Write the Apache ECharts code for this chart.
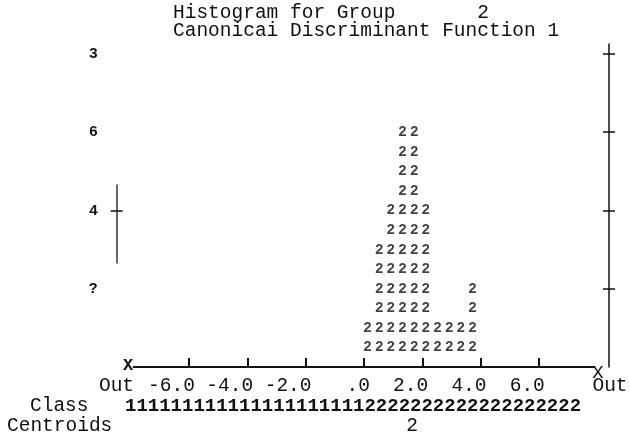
<!DOCTYPE html>
<html>
<head>
<meta charset="utf-8">
<script src="https://cdn.jsdelivr.net/npm/echarts@6/dist/echarts.min.js"></script>
<style>
  html, body { margin: 0; padding: 0; background: #fff; }
  #chart { width: 629px; height: 436px; }
</style>
</head>
<body>
<div id="chart"></div>
<script>
// histogram columns: centre of each text column on the function axis, and its case count
const colX = [0.12, 0.52, 0.92, 1.32, 1.72, 2.12, 2.52, 2.92, 3.32, 3.72];
const colCounts = [1, 3, 4, 6, 6, 4, 1, 1, 1, 2];
const rowStep = 0.5; // each printed "2" stands for half a case
const groupSymbol = '2';

const xTickValues = [-6, -4, -2, 0, 2, 4, 6];
const xTickLabels = ['-6.0', '-4.0', '-2.0', '.0', '2.0', '4.0', '6.0'];
const yTickValues = [2, 4, 6, 8];
const yTickLabels = ['?', '4', '6', '3'];

const titleLine1 = 'Histogram for Group       2';
const titleLine2 = 'Canonicai Discriminant Function 1';
const classRow = '111111111111111111111' + '2222222222222222222';
const centroidMark = '2';

const mono = '"Liberation Mono", "DejaVu Sans Mono", monospace';
const sans = '"Liberation Sans", Arial, sans-serif';
const ink = '#111';

const xMin = -7.9, xMax = 7.9;
const halfChar = 0.2; // half a printed column, in axis units

// stack of printed symbols, one point per row
const points = [];
colX.forEach((x, i) => {
  const rows = Math.round(colCounts[i] / rowStep);
  for (let k = 1; k <= rows; k++) points.push([x, k * rowStep]);
});

const chart = echarts.init(document.getElementById('chart'));

const txt = (text, x, y, opts) => ({
  type: 'text', x: x, y: y,
  style: Object.assign({ text: text, fill: ink, font: '19.5px ' + mono, textVerticalAlign: 'middle' }, opts || {})
});

const plainY = (extra) => Object.assign({
  type: 'value',
  splitLine: { show: false },
  axisLabel: { show: false }
}, extra);

chart.setOption({
  backgroundColor: '#fff',
  animation: false,
  grid: [
    { left: 133.6, right: 34.6, top: 44, bottom: 69 },
    { left: 116.7, width: 1, top: 185, height: 78 }
  ],
  xAxis: [
    {
      gridIndex: 0, type: 'value', min: xMin, max: xMax,
      splitLine: { show: false },
      axisLine: { onZero: false, lineStyle: { color: ink, width: 2 } },
      axisTick: { customValues: xTickValues, inside: true, length: 9, lineStyle: { color: ink, width: 2 } },
      axisLabel: { show: false }
    },
    {
      // label-only copy shifted half a column, so the last digit sits on its tick
      gridIndex: 0, type: 'value', min: xMin - halfChar, max: xMax - halfChar,
      position: 'bottom',
      splitLine: { show: false },
      axisLine: { show: false, onZero: false },
      axisTick: { show: false },
      axisLabel: {
        customValues: xTickValues,
        margin: 9,
        color: ink,
        fontFamily: mono,
        fontSize: 19.5,
        align: 'right',
        formatter: v => xTickLabels[xTickValues.indexOf(v)]
      }
    },
    { gridIndex: 1, type: 'value', show: false }
  ],
  yAxis: [
    plainY({
      gridIndex: 0, min: 0, max: 8.25, position: 'left',
      axisLine: { show: false, onZero: false },
      axisTick: { show: false },
      axisLabel: {
        customValues: yTickValues,
        margin: 36,
        color: ink,
        fontFamily: sans,
        fontWeight: 'bold',
        fontSize: 15,
        formatter: v => yTickLabels[yTickValues.indexOf(v)]
      }
    }),
    plainY({
      gridIndex: 0, min: 0, max: 8.25, position: 'right', offset: 14.6,
      axisLine: { show: true, onZero: false, lineStyle: { color: ink, width: 1.5 } },
      axisTick: { show: true, customValues: yTickValues, length: 6, lineStyle: { color: ink, width: 1.5 } }
    }),
    plainY({
      gridIndex: 0, min: 0, max: 8.25, position: 'right', offset: 14.6,
      axisLine: { show: false, onZero: false },
      axisTick: { show: true, inside: true, customValues: yTickValues, length: 6, lineStyle: { color: ink, width: 1.5 } }
    }),
    plainY({
      gridIndex: 1, min: 2.66, max: 4.65, position: 'left',
      axisLine: { show: true, onZero: false, lineStyle: { color: '#333', width: 1.5 } },
      axisTick: { show: true, customValues: [4], length: 6, lineStyle: { color: ink, width: 1.5 } }
    }),
    plainY({
      gridIndex: 1, min: 2.66, max: 4.65, position: 'left',
      axisLine: { show: false, onZero: false },
      axisTick: { show: true, inside: true, customValues: [4], length: 6, lineStyle: { color: ink, width: 1.5 } }
    })
  ],
  series: [{
    type: 'scatter',
    xAxisIndex: 0,
    yAxisIndex: 0,
    data: points,
    symbolSize: 10,
    itemStyle: { color: 'transparent' },
    label: {
      show: true,
      position: 'inside',
      formatter: groupSymbol,
      color: ink,
      fontFamily: sans,
      fontWeight: 'bold',
      fontSize: 14.5
    }
  }],
  graphic: [
    txt(titleLine1, 173, 13),
    txt(titleLine2, 173, 31),
    txt('X', 128, 366, { font: 'bold 17px ' + mono, textAlign: 'center' }),
    txt('X', 598, 373, { font: '19px ' + mono, textAlign: 'center' }),
    txt('Out', 116.5, 386, { textAlign: 'center' }),
    txt('Out', 610, 386, { textAlign: 'center' }),
    txt('Class', 30, 406),
    txt(classRow, 125, 406, { font: 'bold 19px ' + mono }),
    txt('Centroids', 7, 426),
    txt(centroidMark, 412, 426, { textAlign: 'center' })
  ]
});
</script>
</body>
</html>
